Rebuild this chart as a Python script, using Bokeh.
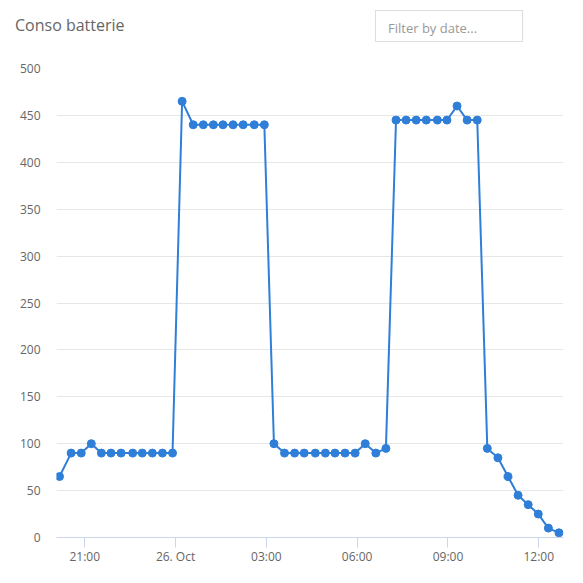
import pandas as pd
from bokeh.plotting import figure
from bokeh.layouts import column
from bokeh.models import Range1d, FixedTicker, Div
from bokeh.embed import file_html
from bokeh.resources import INLINE

# ---- data ----
times = [
    "2019-10-25 20:10", "2019-10-25 20:33", "2019-10-25 20:53", "2019-10-25 21:13",
    "2019-10-25 21:33", "2019-10-25 21:52", "2019-10-25 22:12", "2019-10-25 22:35",
    "2019-10-25 22:54", "2019-10-25 23:14", "2019-10-25 23:34", "2019-10-25 23:54",
    "2019-10-26 00:13", "2019-10-26 00:35", "2019-10-26 00:55", "2019-10-26 01:15",
    "2019-10-26 01:34", "2019-10-26 01:54", "2019-10-26 02:14", "2019-10-26 02:36",
    "2019-10-26 02:56",
    "2019-10-26 03:15", "2019-10-26 03:36", "2019-10-26 03:56", "2019-10-26 04:15",
    "2019-10-26 04:37", "2019-10-26 04:57", "2019-10-26 05:16", "2019-10-26 05:36",
    "2019-10-26 05:56", "2019-10-26 06:16", "2019-10-26 06:37", "2019-10-26 06:57",
    "2019-10-26 07:17", "2019-10-26 07:37", "2019-10-26 07:57", "2019-10-26 08:17",
    "2019-10-26 08:39", "2019-10-26 08:58", "2019-10-26 09:18", "2019-10-26 09:38",
    "2019-10-26 09:58",
    "2019-10-26 10:18", "2019-10-26 10:39", "2019-10-26 10:59", "2019-10-26 11:19",
    "2019-10-26 11:39", "2019-10-26 11:59", "2019-10-26 12:19", "2019-10-26 12:40",
]
values = [
    65, 90, 90, 100, 90, 90, 90, 90, 90, 90, 90, 90,
    465, 440, 440, 440, 440, 440, 440, 440, 440,
    100, 90, 90, 90, 90, 90, 90, 90, 90, 100, 90, 95,
    445, 445, 445, 445, 445, 445, 460, 445, 445,
    95, 85, 65, 45, 35, 25, 10, 5,
]
tick_times = ["2019-10-25 21:00", "2019-10-26 00:00", "2019-10-26 03:00",
              "2019-10-26 06:00", "2019-10-26 09:00", "2019-10-26 12:00"]
tick_labels = ["21:00", "26. Oct", "03:00", "06:00", "09:00", "12:00"]
y_ticks = [0, 50, 100, 150, 200, 250, 300, 350, 400, 450, 500]
title_text = "Conso batterie"
placeholder_text = "Filter by date..."

x = pd.to_datetime(times)


def ms(s):
    return pd.Timestamp(s).value // 10**6


x_start = ms("2019-10-25 20:04")
x_end = ms("2019-10-26 12:49")

FONT = "Open Sans"
LABEL = "#666666"
BLUE = "#2f7ed8"

W = 583
HEAD_H = 60

# ---- header (title + filter box) ----
html = f"""
<div style="position:relative;width:{W}px;height:{HEAD_H}px;background:white;">
  <div style="position:absolute;left:15px;top:13px;font-family:'{FONT}';font-size:16px;
              line-height:24px;color:#666666;white-space:nowrap;">{title_text}</div>
  <div style="position:absolute;left:375px;top:10px;width:146px;height:30px;
              border:1px solid #dddddd;background:white;box-sizing:content-box;"></div>
  <div style="position:absolute;left:388px;top:19px;font-family:'{FONT}';font-size:13px;
              line-height:18px;color:#999999;white-space:nowrap;">{placeholder_text}</div>
</div>
"""
head = Div(text=html, width=W, height=HEAD_H, margin=0)

# ---- main chart ----
p = figure(width=W, height=583 - HEAD_H, x_axis_type="datetime",
           x_range=Range1d(x_start, x_end), y_range=Range1d(0, 500),
           output_backend="svg", toolbar_location=None,
           min_border_left=56, min_border_right=20,
           min_border_top=68 - HEAD_H, min_border_bottom=46)
p.outline_line_color = None
p.background_fill_color = "white"
p.border_fill_color = "white"

p.line(x, values, line_width=2, color=BLUE)
p.scatter(x, values, size=8, color=BLUE)

xa = p.xaxis[0]
tv = [ms(t) for t in tick_times]
xa.ticker = FixedTicker(ticks=tv)
xa.major_label_overrides = {v: l for v, l in zip(tv, tick_labels)}
xa.axis_line_color = "#ccd6eb"
xa.major_tick_line_color = "#ccd6eb"
xa.major_tick_out = 10
xa.major_tick_in = 0
xa.minor_tick_line_color = None
xa.major_label_standoff = 0
xa.major_label_text_font = FONT
xa.major_label_text_font_size = "12px"
xa.major_label_text_color = LABEL

ya = p.yaxis[0]
ya.ticker = FixedTicker(ticks=y_ticks)
ya.axis_line_color = None
ya.major_tick_line_color = None
ya.minor_tick_line_color = None
ya.major_tick_out = 0
ya.major_tick_in = 0
ya.major_label_standoff = 16
ya.major_label_text_font = FONT
ya.major_label_text_font_size = "12px"
ya.major_label_text_color = LABEL

p.xgrid.grid_line_color = None
p.ygrid.grid_line_color = "#e6e6e6"
p.ygrid.ticker = FixedTicker(ticks=y_ticks)

layout = column(head, p, spacing=0)
open("out.html", "w").write(file_html(layout, INLINE))
